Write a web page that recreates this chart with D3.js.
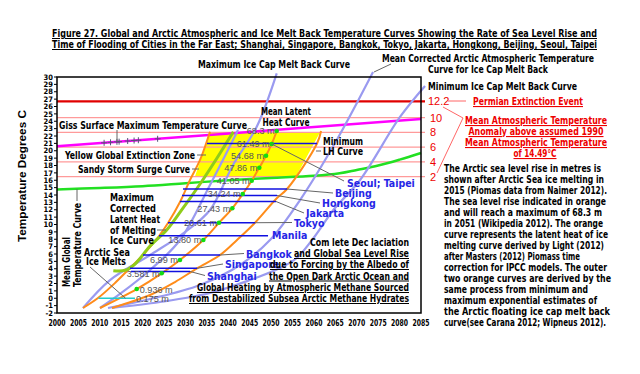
<!DOCTYPE html>
<html><head><meta charset="utf-8">
<script src="https://cdnjs.cloudflare.com/ajax/libs/d3/7.8.5/d3.min.js"></script>
<style>body{margin:0;background:#fff}svg{display:block}</style>
</head><body><svg id="c" width="640" height="374"></svg>
<script>
// ---------------- DATA ----------------
const yearTicks = d3.range(2000, 2086, 5);
const tempTicks = d3.range(-2, 31, 1);
const permianTemp = 26.69;
const anomalyLabels = ["10", "8", "6", "4", "2"];
const anomalyTemps = [24.49, 22.49, 20.49, 18.49, 16.49];
const gissCurve = [[2000, 20.6], [2085, 24.3]];
const gissPointYears = [2011, 2012.5, 2014, 2014.5, 2016.5, 2018, 2019, 2023.5];
const meanGlobalCurve = [[2000,14.76],[2010,14.95],[2020,15.2],[2030,15.6],[2040,16.0],[2050,16.3],[2060,16.6],[2066,16.95],[2070,17.4],[2075,18.0],[2080,18.8],[2085,19.7]];
const seaIceMelts = [[2009.7, 0], [2018.2, 0]];
const maxLatentGreen = [[2013.15,3.74],[2015.88,3.79],[2018.22,4.64],[2021.72,7.08],[2025.62,9.25],[2029.12,11.97],[2033.40,15.49],[2037.37,19.02],[2041.17,22.58]];
const iceCapParallel = [[2010.04,-1.32],[2014.71,0.58],[2021.72,3.83],[2028.72,7.90],[2035.73,15.36],[2042.27,22.81]];
const iceCapMax = [[2006.07,-1.32],[2012.38,2.47],[2021.72,5.86],[2029.89,8.98],[2035.73,11.97],[2041.10,18.07],[2046.64,23.26],[2051.31,30.5]];
const iceCapMean = [[2011.91,-1.32],[2021.72,-0.10],[2033.40,1.80],[2042.74,4.51],[2049.74,7.90],[2056.75,13.32],[2065.32,21.46],[2073.80,30.68]];
const iceCapMin = [[2012.84,-1.32],[2024.05,-0.51],[2035.73,0.71],[2045.07,2.47],[2052.08,4.10],[2055.98,5.46],[2060.26,8.44],[2064.53,11.97],[2070.77,16.03],[2080.10,24.58],[2085.94,28.78]];
const latentMax = [[2006.07,-1.32],[2009.57,0.03],[2013.55,2.07],[2017.05,4.10],[2020.08,5.86],[2023.82,8.44],[2025.92,10.20],[2028.72,13.05],[2031.06,16.03],[2033.40,18.75],[2035.73,22.58]];
const latentMean = [[2010.04,-1.32],[2018.61,1.25],[2024.45,3.38],[2028.72,5.19],[2034.17,7.90],[2037.83,10.24],[2040.94,12.20],[2043.37,14.14],[2045.47,15.94],[2047.24,17.70],[2048.81,19.33],[2050.14,20.92],[2051.31,22.68]];
const latentMin = [[2012.84,-1.32],[2021.72,0.44],[2027.56,2.20],[2032.70,4.06],[2038.07,5.86],[2042.04,7.90],[2046.24,10.24],[2051.26,13.53],[2053.71,14.81],[2060.72,20.98],[2061.66,22.68]];
const extinctionZone = [[2032.2,16.49],[2035.7,22.49],[2061.4,22.49],[2055.8,16.49]];
const seaLevelLabels = ["0.936 m","3.581 m","6.99 m","13.80 m","20.61 m","27.43 m","34.24 m","41.05 m","47.86 m","54.68 m","61.49 m","68.3 m"];
const seaLevelYears = [2018.61,2024.45,2028.72,2034.17,2037.83,2040.94,2043.37,2045.47,2047.24,2048.81,2050.14,2051.31];
const seaLevelTemps = [1.25,3.38,5.19,7.90,10.24,12.20,14.14,15.94,17.70,19.33,20.92,22.68];
const cityNames = ["Seoul; Taipei","Beijing","Hongkong","Jakarta","Tokyo","Manila","Bangkok","Singapore","Shanghai"];
const cityTemps = [20.98,14.81,13.93,13.12,10.24,8.47,5.86,4.06,3.63];
const cityStart = [2035.03,2029.43,2029.19,2028.72,2025.92,2023.82,2020.08,2017.05,2017.28];
const cityEnd = [2060.72,2053.71,2051.38,2051.14,2046.24,2049.28,2038.07,2032.70,2031.06];
const cityLabelPos = [[347,187],[335,197],[322,207],[306,217],[294,226.5],[272,239],[246,257.5],[225,268],[207,279.5]];
const paragraph = ["The Arctic sea level rise in metres is","shown after Arctic Sea ice melting in","2015 (Piomas data from Naimer 2012).","The sea level rise indicated in orange","and will reach  a maximum of 68.3 m","in 2051 (Wikipedia 2012). The orange","curve represents the latent heat of ice","melting curve derived by Light (2012)","after Masters (2012) Piomass  time","correction for IPCC models. The outer","two orange curves are derived by the","same process from minimum and","maximum exponential estimates of","the Arctic  floating ice cap melt back","curve(see Carana 2012; Wipneus 2012)."];
const paragraphEnds = [601,604,607,606,602,603,608,604,580,607,611,588,597,610,606];

// ---------------- SETUP ----------------
const FONT = '"Liberation Sans Narrow","DejaVu Sans Condensed","Liberation Sans",Arial,sans-serif';
const FONTW = '"Liberation Sans",Arial,sans-serif';
const svg = d3.select("#c");
svg.append("rect").attr("width",640).attr("height",374).attr("fill","#fff");
const x = d3.scaleLinear().domain([2000, 2085]).range([57, 421]);
const y = d3.scaleLinear().domain([-2, 30]).range([313, 77]);
const line = d3.line().x(d => x(d[0])).y(d => y(d[1])).curve(d3.curveCatmullRom.alpha(0.5));
const straight = d3.line().x(d => x(d[0])).y(d => y(d[1]));

function txt(s, px, py, o = {}) {
  const t = svg.append("text").attr("x", px).attr("y", py).text(s)
    .attr("font-size", o.size || 10).attr("font-weight", o.weight || "bold")
    .attr("fill", o.fill || "#000").attr("text-anchor", o.anchor || "start")
    .attr("font-family", o.family || FONT);
  if (o.w) t.attr("textLength", o.w).attr("lengthAdjust", "spacingAndGlyphs");
  if (o.u) t.attr("text-decoration", "underline");
  if (o.rot) t.attr("transform", `rotate(-90,${px},${py})`);
  return t;
}
function seg(x1, y1, x2, y2, c = "#666", w = 1) {
  svg.append("line").attr("x1", x1).attr("y1", y1).attr("x2", x2).attr("y2", y2).attr("stroke", c).attr("stroke-width", w);
}
function curve(data, c, w) {
  svg.append("path").attr("d", line(data)).attr("fill", "none").attr("stroke", c).attr("stroke-width", w);
}

// ---------------- MARKS ----------------
svg.append("path").attr("d", straight(extinctionZone) + "Z").attr("fill", "#ffff00");
anomalyTemps.forEach(t => seg(x(2000), y(t), 425, y(t), "#ff9a9a", 1.2));
seg(x(2000), y(permianTemp), 425, y(permianTemp), "#e00000", 2.2);

curve(meanGlobalCurve, "#22e022", 2.5);
svg.append("path").attr("d", straight(gissCurve)).attr("fill", "none").attr("stroke", "#ff00ff").attr("stroke-width", 2.5);
const gissT = yr => gissCurve[0][1] + (yr - 2000) * (gissCurve[1][1] - gissCurve[0][1]) / 85;
gissPointYears.forEach(yr => {
  const cx = x(yr), cy = y(gissT(yr));
  seg(cx - 3, cy, cx + 3, cy, "#557", 1); seg(cx, cy - 3, cx, cy + 3, "#557", 1);
});

[iceCapParallel, iceCapMax, iceCapMean, iceCapMin].forEach(c => curve(c, "#9a9af0", 2.2));
[latentMax, latentMean, latentMin].forEach(c => curve(c, "#ff8c1a", 2));
curve(maxLatentGreen, "#8fcc1a", 3);

cityNames.forEach((n, i) => seg(x(cityStart[i]), y(cityTemps[i]), x(cityEnd[i]), y(cityTemps[i]), "#1010e0", 1.6));
seg(x(seaIceMelts[0][0]), y(seaIceMelts[0][1]), x(seaIceMelts[1][0]), y(seaIceMelts[1][1]), "#22cccc", 1.6);

svg.append("rect").attr("x", 57).attr("y", 77).attr("width", 364).attr("height", 236)
  .attr("fill", "none").attr("stroke", "#000").attr("stroke-width", 1.5);

tempTicks.forEach(t => {
  seg(54, y(t), 57, y(t), "#000", 1);
  txt(String(t), 53, y(t) + 2.7, { size: 7.5, anchor: "end" });
});
yearTicks.forEach(yr => txt(String(yr), x(yr), 326, { size: 8.5, anchor: "middle", w: 17 }));
txt("Temperature Degrees C", 26, 176, { size: 11, anchor: "middle", family: FONTW, rot: true, w: 132 });

seaLevelYears.forEach((yr, i) => {
  const cx = x(yr), cy = y(seaLevelTemps[i]);
  if (i === 0) txt(seaLevelLabels[i], cx + 3, cy + 3.5, { size: 9.5, weight: "normal", fill: "#555", family: FONTW, w: 33 });
  else txt(seaLevelLabels[i], cx - 2, cy + 3.5, { size: 9.5, weight: "normal", fill: "#555", anchor: "end", family: FONTW, w: seaLevelLabels[i].length > 6 ? 33 : 28 });
});
txt("0.175 m", x(seaIceMelts[1][0]) + 1, y(0) + 3.5, { size: 9.5, weight: "normal", fill: "#555", family: FONTW, w: 33 });
seaLevelYears.forEach((yr, i) => svg.append("circle").attr("cx", x(yr)).attr("cy", y(seaLevelTemps[i])).attr("r", 2.3).attr("fill", "#11dd11"));

cityNames.forEach((n, i) => {
  const [lx, ly] = cityLabelPos[i];
  if (i === 0) seg(x(seaLevelYears[10]), y(seaLevelTemps[10]), lx - 3, ly - 6);
  else if (i !== 5) seg(x(cityEnd[i]), y(cityTemps[i]), lx - 2, ly - 4);
  txt(n, lx, ly, { size: 10.5, fill: "#2626e6" });
});

// ---------------- TEXT ----------------
txt("Figure 27.  Global and Arctic Atmospheric and Ice Melt Back Temperature Curves Showing the Rate of Sea Level Rise and", 52, 37, { size: 10, u: true, w: 545 });
txt("Time of Flooding of Cities in the Far East; Shanghai, Singapore, Bangkok, Tokyo, Jakarta, Hongkong, Beijing, Seoul, Taipei", 52, 48, { size: 10, u: true, w: 545 });

txt("Maximum Ice Cap Melt Back Curve", 198, 68, { w: 152 });
txt("Mean Corrected Arctic Atmospheric Temperature", 382, 62, { w: 212 });
txt("Curve for Ice Cap Melt Back", 428, 73, { w: 120 });
seg(x(iceCapMean[iceCapMean.length - 1][0]) + 1, y(iceCapMean[iceCapMean.length - 1][1]), 391, 64);
txt("Minimum Ice Cap Melt Back Curve", 428, 90, { w: 149 });

txt("12.2", 428, 105, { fill: "#ee0000", weight: "normal", family: FONTW, size: 11 });
seg(448, 101, 466, 101, "#ff6666", 1);
txt("Permian Extinction Event", 473, 105, { fill: "#ee0000", u: true, w: 110, size: 11 });
anomalyLabels.forEach((l, i) => txt(l, 430, y(anomalyTemps[i]) + 4, { fill: "#ee0000", weight: "normal", family: FONTW, size: 11 }));
seg(443, 107, 463, 118, "#ff6666", 1);
seg(463, 118, 437, 173, "#ff6666", 1);
txt("Mean Atmospheric Temperature", 536, 124, { fill: "#ee0000", u: true, anchor: "middle", w: 142, size: 11 });
txt("Anomaly above assumed 1990", 536, 135, { fill: "#ee0000", u: true, anchor: "middle", w: 135, size: 11 });
txt("Mean Atmospheric Temperature", 536, 146, { fill: "#ee0000", u: true, anchor: "middle", w: 142, size: 11 });
txt("of 14.49°C", 535, 157, { fill: "#ee0000", u: true, anchor: "middle", w: 43, size: 11 });

paragraph.forEach((l, i) => txt(l, 444, 172 + i * 11.03, { size: 10.5, w: paragraphEnds[i] - 444 }));

txt("Giss Surface Maximum Temperature Curve", 59, 129, { w: 188 });
seg(117, 130, 117, y(gissT(2014)));
txt("Yellow Global Extinction Zone", 65, 159, { w: 130 });
seg(197, 155, 206, 155);
txt("Sandy Storm Surge Curve", 78, 173, { w: 112 });
seg(192, 169, 199, 169);
txt("Mean Latent", 286, 115, { anchor: "middle", w: 50 });
txt("Heat Curve", 286, 126, { anchor: "middle", w: 47 });
txt("Minimum", 323, 145, { w: 40 });
txt("LH Curve", 323, 155, { w: 40 });
seg(316, 151, 321, 151);
["Maximum", "Corrected", "Latent Heat", "of Melting", "Ice Curve"].forEach((s, i) =>
  txt(s, 110, 201 + i * 10.85, { w: [44, 46, 50, 46, 44][i] }));
seg(157, 230, 166, 230);
txt("Arctic Sea", 84, 256, { w: 46 });
txt("Ice Melts", 86, 265, { w: 40 });
seg(90, 267, x(2016), y(0));
txt("Mean Global", 70, 287, { rot: true, w: 50 });
txt("Temperature Curve", 81, 287, { rot: true, w: 84 });
seg(77, 201, 77, y(14.8));

txt("Com lete Dec laciation", 409, 246, { anchor: "end", w: 99 });
txt("and Global Sea Level Rise", 409, 257, { anchor: "end", w: 115, u: true });
txt("due to Forcing by the Albedo of", 409, 268, { anchor: "end", w: 139, u: true });
txt("the Open Dark Arctic Ocean and", 409, 279.5, { anchor: "end", w: 140, u: true });
txt("Global Heating by Atmospheric Methane Sourced", 409, 291, { anchor: "end", w: 212, u: true });
txt("from Destabilized Subsea Arctic Methane Hydrates", 409, 302, { anchor: "end", w: 220, u: true });
</script></body></html>
